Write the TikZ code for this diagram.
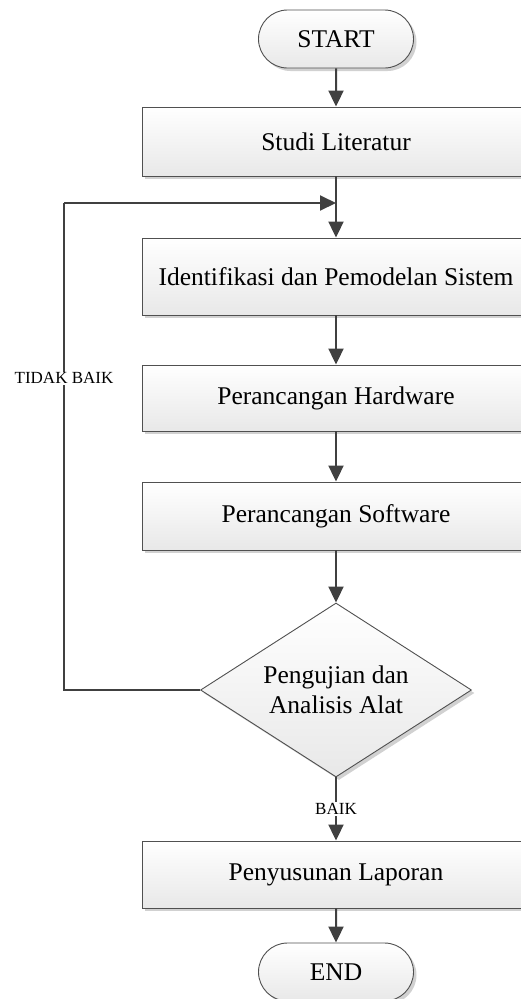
\documentclass[tikz,border=0pt]{standalone}
\usepackage{fontspec}
\setmainfont{Liberation Serif}
\usetikzlibrary{arrows.meta,shapes.geometric,shapes.misc,shadows}
\definecolor{edgec}{HTML}{505050}
\definecolor{linec}{HTML}{404040}
\begin{document}
\begin{tikzpicture}[x=1pt,y=-1pt,
  base/.style={draw=edgec, line width=0.9pt, top color=white, bottom color=black!9,
    general shadow={fill=black!18, shadow xshift=3pt, shadow yshift=-3pt},
    font=\fontsize{25.5}{30}\selectfont, inner sep=0pt, align=center},
  procbox/.style={base, rectangle, minimum width=388pt},
  term/.style={base, rounded rectangle, minimum width=155pt, minimum height=58pt},
  decide/.style={base, diamond, aspect=1.56, minimum width=271pt, minimum height=174pt},
  flow/.style={draw=linec, line width=2pt, -{Triangle[length=16pt,width=15pt]}},
  plain/.style={draw=linec, line width=2pt},
  lbl/.style={fill=white, inner sep=1pt, font=\fontsize{17}{20}\selectfont}]
\useasboundingbox (0,0) rectangle (521,999);
\node[term] (start) at (336,39) {START};
\node[procbox, minimum height=69pt] (studi) at (336,141.5) {Studi Literatur};
\node[procbox, minimum height=77pt] (ident) at (336,276.5) {Identifikasi dan Pemodelan Sistem};
\node[procbox, minimum height=66pt] (hard) at (336,398) {Perancangan Hardware};
\node[procbox, minimum height=68pt] (soft) at (336,516) {Perancangan Software};
\node[decide] (uji) at (336,690) {Pengujian dan\\Analisis Alat};
\node[procbox, minimum height=67pt] (lapor) at (336,874.5) {Penyusunan Laporan};
\node[term] (end) at (336,972) {END};
\coordinate (join) at (336,203);
\coordinate (lb) at (64,690);
\coordinate (lt) at (64,203);
\draw[flow] (start) -- (studi);
\draw[flow] (studi) -- (ident);
\draw[flow] (ident) -- (hard);
\draw[flow] (hard) -- (soft);
\draw[flow] (soft) -- (uji);
\draw[flow] (uji) -- node[lbl, pos=0.5] (baik) {BAIK} (lapor);
\draw[flow] (lapor) -- (end);
\draw[plain] (uji.west) -- (lb) -- node[lbl, pos=0.64] (tidak) {TIDAK BAIK} (lt);
\draw[flow] (lt) -- (join);
\end{tikzpicture}
\end{document}
